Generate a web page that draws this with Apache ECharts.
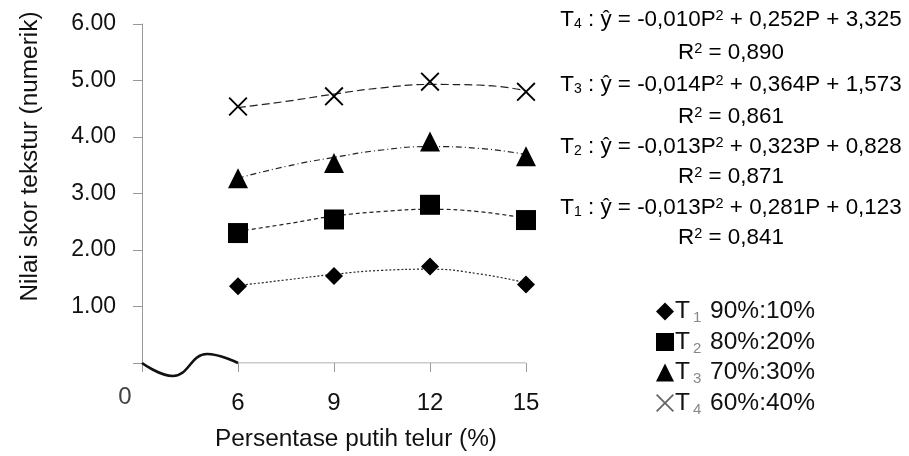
<!DOCTYPE html>
<html><head><meta charset="utf-8">
<script src="https://cdn.jsdelivr.net/npm/echarts@6/dist/echarts.min.js"></script>
<style>html,body{margin:0;padding:0;background:#fff}#c{width:909px;height:456px}</style>
</head><body><div id="c"></div>
<script>
// ---- data ----
var xTicks = [3, 6, 9, 12, 15];           // 3 = broken-axis slot shown as "0"
var xTickLabels = {3: '0', 6: '6', 9: '9', 12: '12', 15: '15'};
var P = [6, 9, 12, 15];
var T1 = [1.36, 1.54, 1.71, 1.39];
var T2 = [2.30, 2.54, 2.80, 2.53];
var T3 = [3.27, 3.54, 3.92, 3.66];
var T4 = [4.54, 4.72, 4.98, 4.80];
var trendP = [6, 7.5, 9, 10.5, 12, 13.5, 15];
var trendT1 = [1.37, 1.47, 1.57, 1.64, 1.66, 1.58, 1.42];
var trendT2 = [2.33, 2.46, 2.60, 2.68, 2.72, 2.68, 2.56];
var trendT3 = [3.27, 3.48, 3.64, 3.77, 3.83, 3.80, 3.69];
var trendT4 = [4.52, 4.63, 4.76, 4.87, 4.93, 4.92, 4.82];
var breakX = [3, 3.97, 5.03, 6];
var breakY = [0, -0.23, 0.16, 0];
var legendNames = ['T1 90%:10%', 'T2 80%:20%', 'T3 70%:30%', 'T4 60%:40%'];
var legendSub = ['1', '2', '3', '4'];
var legendRatio = ['90%:10%', '80%:20%', '70%:30%', '60%:40%'];
var eqLines = [
  ['4', '-0,010', '0,252', '3,325', '0,890'],
  ['3', '-0,014', '0,364', '1,573', '0,861'],
  ['2', '-0,013', '0,323', '0,828', '0,871'],
  ['1', '-0,013', '0,281', '0,123', '0,841']
];

function zip(xs, ys) { return xs.map(function (x, i) { return [x, ys[i]]; }); }

var FONT = "'Liberation Sans', Arial, sans-serif";
var xIcon = 'path://M0,1.4L1.4,0L10,8.6L18.6,0L20,1.4L11.4,10L20,18.6L18.6,20L10,11.4L1.4,20L0,18.6L8.6,10Z';
var symbols = ['diamond', 'rect', 'triangle', xIcon];
var sizes = [18, 20, 20, 19];
var markers = [T1, T2, T3, T4];
var trends = [trendT1, trendT2, trendT3, trendT4];
var dashes = [[2, 2], [4, 3], [6, 3, 1, 3], [8, 4]];

var series = [];
markers.forEach(function (m, i) {
  series.push({
    name: legendNames[i], type: 'line', data: zip(trendP, trends[i]),
    smooth: true, showSymbol: false, silent: true, z: 2,
    lineStyle: { color: '#222', width: 1.2, type: dashes[i] },
    itemStyle: { color: '#000' }
  });
  series.push({
    name: legendNames[i], type: 'scatter', data: zip(P, m), z: 3,
    symbol: symbols[i], symbolSize: sizes[i],
    itemStyle: { color: '#000', opacity: 1 }
  });
});
series.push({
  type: 'line', data: zip([6, 15], [0, 0]), showSymbol: false, silent: true,
  lineStyle: { color: '#999', width: 1 }, z: 1
});
series.push({
  type: 'line', data: zip(breakX, breakY), smooth: 0.45, showSymbol: false,
  silent: true, clip: false, lineStyle: { color: '#111', width: 2.6 }, z: 4
});

var graphics = [];
var eqY = [20, 53, 85, 117, 147, 177, 208, 238];
var richEq = {
  t: { fontSize: 22.4, fontFamily: FONT, color: '#111' },
  sb: { fontSize: 14, fontFamily: FONT, color: '#666', verticalAlign: 'bottom', padding: [8, 0, 0, 0] },
  sp: { fontSize: 14.5, fontFamily: FONT, color: '#555', verticalAlign: 'top', padding: [0, 0, 8, 0] }
};
eqLines.forEach(function (e, i) {
  graphics.push({
    type: 'text', x: 731, y: eqY[2 * i],
    style: {
      text: '{t|T}{sb|' + e[0] + '}{t| : ŷ = ' + e[1] + 'P}{sp|2}{t| + ' + e[2] + 'P + ' + e[3] + '}',
      rich: richEq, align: 'center', verticalAlign: 'middle'
    }
  });
  graphics.push({
    type: 'text', x: 731, y: eqY[2 * i + 1],
    style: {
      text: '{t|R}{sp|2}{t| = ' + e[4] + '}',
      rich: richEq, align: 'center', verticalAlign: 'middle'
    }
  });
});

var chart = echarts.init(document.getElementById('c'));
chart.setOption({
  animation: false,
  backgroundColor: '#fff',
  textStyle: { fontFamily: FONT },
  grid: { left: 142, right: 383, top: 24, bottom: 92 },
  xAxis: {
    type: 'value', min: 3, max: 15, interval: 3,
    name: 'Persentase putih telur (%)', nameLocation: 'middle', nameGap: 64,
    nameTextStyle: { fontSize: 24.4, color: '#111', fontFamily: FONT, padding: [0, 0, 0, 44] },
    axisLine: { show: false },
    axisTick: { show: true, length: 9, lineStyle: { color: '#999' } },
    splitLine: { show: false },
    axisLabel: {
      margin: 22, fontSize: 24, color: '#222', fontFamily: FONT,
      formatter: function (v) { return v === 3 ? '{z|' + xTickLabels[v] + '}' : '{n|' + xTickLabels[v] + '}'; },
      rich: {
        z: { fontSize: 24, color: '#444', fontFamily: FONT, padding: [0, 34, 0, 0] },
        n: { fontSize: 24, color: '#111', fontFamily: FONT, padding: [6, 0, 0, 0] }
      }
    }
  },
  yAxis: {
    type: 'value', min: 0, max: 6, interval: 1,
    name: 'Nilai skor tekstur (numerik)', nameLocation: 'middle', nameGap: 100,
    nameTextStyle: { fontSize: 24.4, color: '#111', fontFamily: FONT, padding: [0, 0, 0, 74] },
    axisLine: { show: true, lineStyle: { color: '#999', width: 1 } },
    axisTick: { show: true, length: 9, lineStyle: { color: '#999' } },
    splitLine: { show: false },
    axisLabel: {
      margin: 26, fontSize: 23, color: '#111', fontFamily: FONT,
      formatter: function (v) { return v === 0 ? '' : v.toFixed(2); }
    }
  },
  legend: {
    orient: 'vertical', left: 651, top: 294, itemWidth: 18, itemHeight: 18, itemGap: 4,
    data: legendNames.map(function (n, i) {
      var d = { name: n, icon: symbols[i] };
      if (i === 3) d.itemStyle = { color: '#666' };
      return d;
    }),
    formatter: function (name) {
      var i = legendNames.indexOf(name);
      return '{t|T}{s|' + legendSub[i] + '}{t| ' + legendRatio[i] + '}';
    },
    textStyle: {
      fontFamily: FONT, fontSize: 24, color: '#111', padding: [0, 0, 0, -4],
      rich: {
        t: { fontSize: 24.5, fontFamily: FONT, color: '#111', lineHeight: 28 },
        s: { fontSize: 15, fontFamily: FONT, color: '#888', verticalAlign: 'bottom', padding: [10, 2, 0, 3] }
      }
    },
    selectedMode: false
  },
  graphic: graphics,
  series: series
});
</script>
</body></html>
